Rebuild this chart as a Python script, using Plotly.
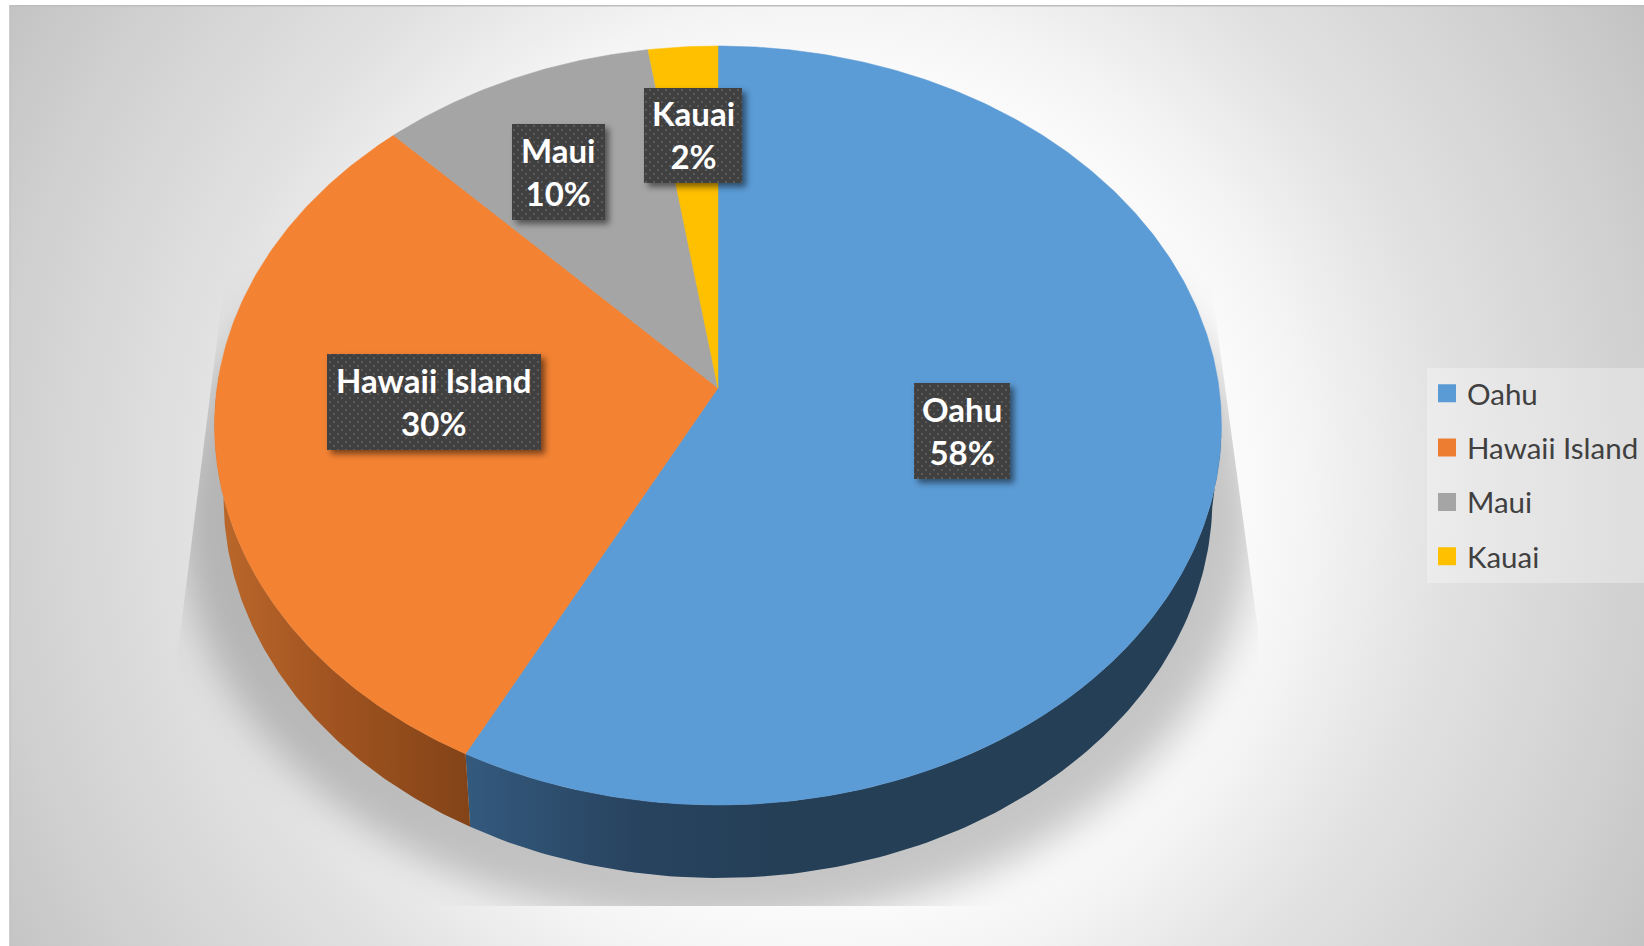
import base64
import numpy as np
import plotly.graph_objects as go

# ---- data ----
categories = ["Oahu", "Hawaii Island", "Maui", "Kauai"]
shares = [57.6, 30.2, 9.75, 2.45]
face_colors = ["#5b9bd6", "#f38233", "#a5a5a5", "#ffc000"]
legend_colors = ["#5b9bd5", "#ed7d31", "#a5a5a5", "#ffc000"]
label_centres = [(962, 431), (434, 402), (558.5, 172), (693, 135.5)]
label_sizes = [(96, 96), (214, 96), (93, 96), (98, 95)]

# ---- projection of the tilted disc onto the page ----
CX, CY, RX, RY, PERSP = 718, 388, 501, 375.8, 0.0988
DEPTH, BOTTOM_SCALE = 73, 0.982


def top(theta):
    X, Y = np.sin(theta), np.cos(theta)
    w = 1 + PERSP * Y
    return CX + RX * X / w, CY - RY * Y / w


def bottom(theta):
    x, y = top(theta)
    return CX + BOTTOM_SCALE * (x - CX), y + DEPTH


cum = np.cumsum([0] + shares) / sum(shares) * 2 * np.pi


def svg_uri(body):
    s = f'<svg xmlns="http://www.w3.org/2000/svg" width="1644" height="946" viewBox="0 0 1644 946">{body}</svg>'
    return "data:image/svg+xml;base64," + base64.b64encode(s.encode()).decode()


background = svg_uri("""
<defs>
<radialGradient id="g" gradientUnits="userSpaceOnUse" cx="822" cy="490" r="960">
<stop offset="0" stop-color="#ffffff"/><stop offset="0.44" stop-color="#fafafa"/>
<stop offset="0.5" stop-color="#f5f5f5"/><stop offset="0.65" stop-color="#e2e2e2"/>
<stop offset="0.86" stop-color="#d0d0d0"/><stop offset="1" stop-color="#c2c2c2"/></radialGradient>
<filter id="b" x="-20%" y="-20%" width="140%" height="140%"><feGaussianBlur stdDeviation="19"/></filter>
<clipPath id="c"><polygon points="241,150 177,658 177,906 1270,906 1258,630 1193,150"/></clipPath>
</defs>
<rect width="1644" height="946" fill="#ffffff"/>
<rect x="9.5" y="6" width="1635" height="940" fill="url(#g)"/>
<rect x="9.5" y="5" width="1635" height="1.5" fill="#bdbdbd"/>
<rect x="9.5" y="5" width="1" height="941" fill="#bdbdbd"/>
<g clip-path="url(#c)"><ellipse cx="718" cy="520" rx="536" ry="406" fill="#000" fill-opacity="0.21" filter="url(#b)"/></g>
""")

boxes = ""
for (cx, cy), (w, h) in zip(label_centres, label_sizes):
    x0, y0 = cx - w / 2, cy - h / 2
    boxes += f'<rect x="{x0+4}" y="{y0+4}" width="{w}" height="{h}" fill="#000" fill-opacity="0.5" filter="url(#s)"/>'
    boxes += f'<rect x="{x0}" y="{y0}" width="{w}" height="{h}" fill="#404040"/>'
    boxes += f'<rect x="{x0}" y="{y0}" width="{w}" height="{h}" fill="url(#d)"/>'
label_layer = svg_uri(f"""
<defs>
<filter id="s" x="-20%" y="-20%" width="140%" height="140%"><feGaussianBlur stdDeviation="3"/></filter>
<pattern id="d" width="8" height="8" patternUnits="userSpaceOnUse">
<rect x="1" y="1" width="2" height="2" fill="#5a5a5a"/><rect x="5" y="5" width="2" height="2" fill="#5a5a5a"/></pattern>
</defs>{boxes}""")

fig = go.Figure()

# side wall (only the front-facing part of the two front slices)
wall_limits = [(np.radians(97), cum[1]), (cum[1], np.radians(272))]
wall_scales = [
    [[0, "#33597d"], [0.22, "#28435f"], [0.4, "#243f56"], [1, "#243f56"]],
    [[0, "#b9662a"], [0.45, "#a05320"], [1, "#824317"]],
]
wall_stops = [(470, 1225), (225, 472)]
for (a, b), scale, (g0, g1) in zip(wall_limits, wall_scales, wall_stops):
    th = np.linspace(a, b, 120)
    xt, yt = top(th)
    xb, yb = bottom(th[::-1])
    xs = np.r_[xt, xb, xt[0]]
    ys = np.r_[yt, yb, yt[0]]
    fig.add_trace(go.Scatter(
        x=xs, y=ys, mode="lines", line=dict(width=0), fill="toself",
        fillgradient=dict(type="horizontal", colorscale=scale, start=g0, stop=g1),
        hoverinfo="skip", showlegend=False))

# top face
for i, name in enumerate(categories):
    th = np.linspace(cum[i], cum[i + 1], max(8, int(shares[i] * 6)))
    xt, yt = top(th)
    fig.add_trace(go.Scatter(
        x=np.r_[CX, xt, CX], y=np.r_[CY, yt, CY], mode="lines",
        line=dict(width=0.5, color=face_colors[i]), fill="toself",
        fillcolor=face_colors[i], name=name, hoverinfo="name", showlegend=False))

# legend entries
for i, name in enumerate(categories):
    fig.add_trace(go.Scatter(
        x=[None], y=[None], mode="markers", name=name, legendgroup=name,
        marker=dict(symbol="square", size=16, color=legend_colors[i],
                    line=dict(width=2, color=legend_colors[i]))))

annotations = []
for i, name in enumerate(categories):
    annotations.append(dict(
        x=label_centres[i][0], y=label_centres[i][1] - 1, xref="x", yref="y",
        text=f"<b>{name}<br>{round(shares[i])}%</b>", showarrow=False, align="center",
        font=dict(family="Lato", size=33, color="#ffffff")))

fig.update_layout(
    width=1644, height=946, margin=dict(l=0, r=0, t=0, b=0),
    paper_bgcolor="rgba(0,0,0,0)", plot_bgcolor="rgba(0,0,0,0)",
    xaxis=dict(range=[0, 1644], visible=False, fixedrange=True),
    yaxis=dict(range=[946, 0], visible=False, fixedrange=True),
    images=[
        dict(source=background, xref="paper", yref="paper", x=0, y=1, sizex=1, sizey=1,
             sizing="stretch", xanchor="left", yanchor="top", layer="below"),
        dict(source=label_layer, xref="paper", yref="paper", x=0, y=1, sizex=1, sizey=1,
             sizing="stretch", xanchor="left", yanchor="top", layer="above"),
    ],
    annotations=annotations,
    showlegend=True,
    legend=dict(x=1427 / 1644, xanchor="left", y=1 - 367.5 / 946, yanchor="top",
                bgcolor="rgba(255,255,255,0.3)", borderwidth=0, traceorder="grouped",
                tracegroupgap=13, font=dict(family="Lato", size=29.5, color="#404040"),
                entrywidth=176, entrywidthmode="pixels",
                itemclick=False, itemdoubleclick=False),
)

fig.write_html("out.html", config={"displayModeBar": False},
               post_script="document.body.style.margin='0';document.body.style.overflow='hidden';")
